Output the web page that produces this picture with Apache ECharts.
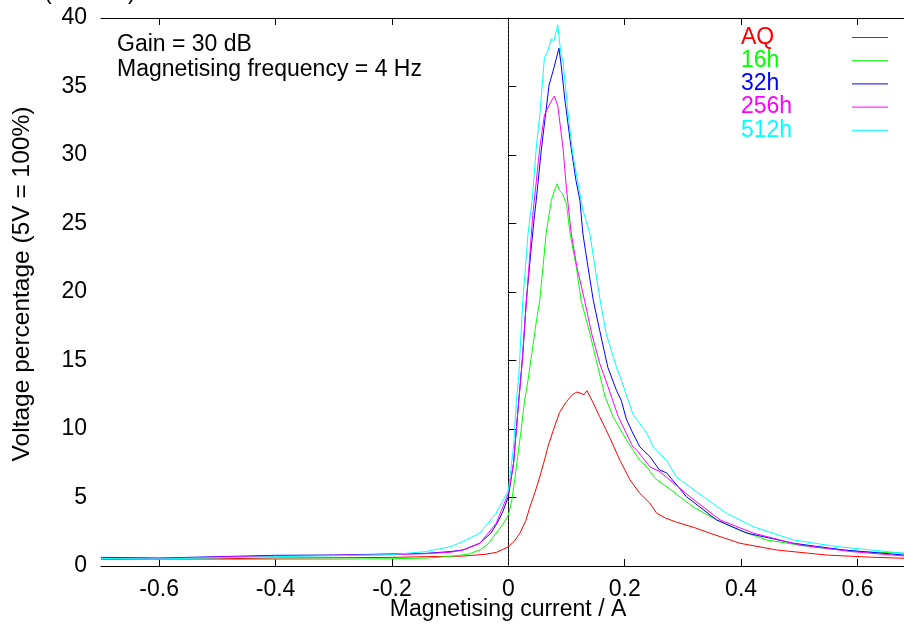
<!DOCTYPE html>
<html>
<head>
<meta charset="utf-8">
<script src="https://cdn.jsdelivr.net/npm/echarts@6/dist/echarts.min.js"></script>
<style>
html,body{margin:0;padding:0;background:#fff;}
#chart{width:904px;height:626px;}
</style>
</head>
<body>
<div id="chart"></div>
<script>
// ---- data ----
var seriesNames = ['AQ', '16h', '32h', '256h', '512h'];
var seriesColors = ['#ff0000', '#00ff00', '#0000ff', '#ff00ff', '#00ffff'];
var xTicks = [-0.6, -0.4, -0.2, 0, 0.2, 0.4, 0.6];
var annotations = ['Gain = 30 dB', 'Magnetising frequency = 4 Hz'];

var dataAQ = [[-0.70,0.48],[-0.60,0.50],[-0.50,0.53],[-0.40,0.58],[-0.30,0.60],[-0.20,0.63],[-0.14,0.68],[-0.08,0.72],[-0.04,0.85],[-0.02,1.0],[0,1.4],[0.01,1.8],[0.02,2.4],[0.03,3.3],[0.037,4.3],[0.046,5.4],[0.054,6.5],[0.062,7.7],[0.068,8.7],[0.078,10.0],[0.088,11.2],[0.10,12.0],[0.11,12.5],[0.118,12.7],[0.125,12.6],[0.13,12.5],[0.135,12.8],[0.146,11.9],[0.157,10.9],[0.174,9.4],[0.192,7.7],[0.209,6.3],[0.226,5.3],[0.243,4.6],[0.255,3.85],[0.27,3.5],[0.289,3.2],[0.32,2.8],[0.346,2.4],[0.398,1.66],[0.461,1.17],[0.547,0.8],[0.62,0.65],[0.68,0.56]];
var data16h = [[-0.70,0.50],[-0.60,0.50],[-0.50,0.48],[-0.40,0.49],[-0.30,0.50],[-0.20,0.53],[-0.14,0.58],[-0.10,0.70],[-0.07,0.85],[-0.049,1.17],[-0.035,1.6],[-0.021,2.4],[-0.01,3.0],[0,3.7],[0.006,4.8],[0.011,6.3],[0.016,8.0],[0.022,9.9],[0.028,12.1],[0.034,13.6],[0.042,16.0],[0.048,17.8],[0.054,19.4],[0.06,22.0],[0.065,24.3],[0.074,26.7],[0.08,27.5],[0.084,27.9],[0.088,27.4],[0.093,27.2],[0.10,26.4],[0.106,24.3],[0.117,21.8],[0.125,19.4],[0.14,17.0],[0.154,14.5],[0.166,12.4],[0.18,10.9],[0.203,9.2],[0.226,7.7],[0.237,7.3],[0.252,6.4],[0.278,5.6],[0.318,4.3],[0.358,3.36],[0.398,2.6],[0.444,1.9],[0.519,1.4],[0.605,1.05],[0.68,0.93]];
var data32h = [[-0.70,0.63],[-0.60,0.58],[-0.50,0.68],[-0.40,0.78],[-0.30,0.80],[-0.20,0.88],[-0.142,0.92],[-0.10,1.05],[-0.078,1.17],[-0.049,1.66],[-0.03,2.4],[-0.021,3.0],[-0.01,3.9],[0,5.06],[0.009,7.5],[0.018,12.1],[0.025,15.5],[0.031,19.4],[0.04,23.5],[0.045,25.6],[0.048,26.7],[0.057,30.5],[0.07,35.1],[0.078,36.3],[0.087,37.8],[0.091,36.5],[0.097,34.1],[0.108,30.5],[0.116,28.2],[0.123,26.7],[0.128,24.3],[0.137,21.8],[0.146,19.4],[0.157,17.2],[0.171,14.5],[0.186,12.8],[0.194,12.1],[0.203,10.7],[0.214,9.7],[0.226,8.7],[0.243,8.0],[0.26,7.0],[0.272,6.8],[0.306,5.06],[0.358,3.36],[0.41,2.4],[0.49,1.66],[0.576,1.17],[0.68,0.8]];
var data256h = [[-0.70,0.58],[-0.60,0.55],[-0.50,0.65],[-0.40,0.73],[-0.30,0.78],[-0.20,0.83],[-0.142,0.90],[-0.10,1.0],[-0.078,1.17],[-0.049,1.66],[-0.021,3.1],[0,5.3],[0.009,7.5],[0.018,12.1],[0.022,13.9],[0.028,17.5],[0.034,21.0],[0.042,25.6],[0.054,30.5],[0.062,32.9],[0.072,33.8],[0.079,34.3],[0.085,33.6],[0.094,30.5],[0.10,27.5],[0.108,24.3],[0.118,21.8],[0.131,19.4],[0.143,17.0],[0.157,14.8],[0.168,13.5],[0.189,10.9],[0.214,8.7],[0.22,8.5],[0.243,7.25],[0.26,6.9],[0.312,5.06],[0.364,3.36],[0.421,2.4],[0.501,1.53],[0.59,1.05],[0.68,0.73]];
var data512h = [[-0.70,0.55],[-0.60,0.52],[-0.50,0.60],[-0.40,0.68],[-0.30,0.75],[-0.20,0.83],[-0.142,1.05],[-0.10,1.4],[-0.08,1.75],[-0.049,2.4],[-0.021,3.85],[0,5.5],[0.009,8.7],[0.014,12.1],[0.018,13.9],[0.025,19.4],[0.034,24.3],[0.041,26.7],[0.048,30.5],[0.054,32.9],[0.062,37.1],[0.068,37.6],[0.074,38.5],[0.078,38.3],[0.085,39.5],[0.09,37.5],[0.094,36.8],[0.097,36.9],[0.103,32.9],[0.111,30.0],[0.128,26.0],[0.14,24.3],[0.149,21.8],[0.157,19.6],[0.168,17.0],[0.186,14.5],[0.194,13.6],[0.206,12.1],[0.214,11.1],[0.238,9.7],[0.249,8.7],[0.272,7.7],[0.289,6.5],[0.335,5.06],[0.375,3.85],[0.421,2.87],[0.49,1.9],[0.565,1.41],[0.68,0.93]];
var allData = [dataAQ, data16h, data32h, data256h, data512h];

// ---- chart ----
var FONT = '"Liberation Sans", Arial, Helvetica, sans-serif';
var FS = 23;
var chart = echarts.init(document.getElementById('chart'), null, {renderer: 'canvas'});

function fmt(v) { var r = Math.round(v * 10) / 10; return String(r === 0 ? 0 : r); }

var series = seriesNames.map(function (name, i) {
  var s = {
    name: name,
    type: 'line',
    data: allData[i],
    showSymbol: false,
    symbol: 'none',
    lineStyle: {color: seriesColors[i], width: 1},
    itemStyle: {color: seriesColors[i]},
    animation: false,
    clip: true,
    z: 3 + i
  };
  if (i === 0) {
    s.markLine = {
      silent: true,
      symbol: 'none',
      label: {show: false},
      z: 1,
      lineStyle: {type: [1, 3], color: '#555', width: 1},
      data: [{xAxis: 0}]
    };
  }
  return s;
});

var graphics = [];
annotations.forEach(function (t, i) {
  graphics.push({type: 'text', left: 117, top: 46 + 25.5 * i - 13, style: {text: t, font: FS + 'px ' + FONT, fill: '#000'}});
});
seriesNames.forEach(function (n, i) {
  var y = 37.5 + 23.2 * i;
  graphics.push({type: 'text', x: 741, y: y, style: {text: n, font: FS + 'px ' + FONT, fill: seriesColors[i], verticalAlign: 'middle', align: 'left'}});
  graphics.push({type: 'line', shape: {x1: 852, y1: y, x2: 888, y2: y}, style: {stroke: seriesColors[i], lineWidth: 1}});
});
graphics.push({type: 'text', x: 508, y: 610, style: {text: 'Magnetising current / A', font: FS + 'px ' + FONT, fill: '#000', align: 'center', verticalAlign: 'middle'}});
graphics.push({type: 'text', x: 22, y: 284, rotation: Math.PI / 2, style: {text: 'Voltage percentage (5V = 100%)', font: '24.5px ' + FONT, fill: '#000', align: 'center', verticalAlign: 'middle'}});
graphics.push({type: 'text', x: 44, y: 4, style: {text: '(', font: FS + 'px ' + FONT, fill: '#000', verticalAlign: 'bottom'}});
graphics.push({type: 'text', x: 128, y: 4, style: {text: ')', font: FS + 'px ' + FONT, fill: '#000', verticalAlign: 'bottom'}});

var axisCommon = {
  type: 'value',
  min: -0.7,
  max: 0.68,
  axisLine: {show: true, lineStyle: {color: '#000', width: 1}},
  splitLine: {show: false}
};

chart.setOption({
  backgroundColor: '#fff',
  animation: false,
  grid: {left: 101, top: 18, right: 0, bottom: 60, containLabel: false},
  xAxis: [
    Object.assign({}, axisCommon, {
      position: 'bottom',
      axisTick: {show: true, inside: true, length: 7, lineStyle: {color: '#000'}, customValues: xTicks},
      axisLabel: {show: true, customValues: xTicks, formatter: fmt, fontSize: FS, fontFamily: FONT, color: '#000', margin: 12}
    }),
    Object.assign({}, axisCommon, {
      position: 'top',
      axisTick: {show: true, inside: true, length: 7, lineStyle: {color: '#000'}, customValues: xTicks},
      axisLabel: {show: false}
    })
  ],
  yAxis: [{
    type: 'value',
    min: 0,
    max: 40,
    interval: 5,
    axisLine: {show: true, lineStyle: {color: '#000', width: 1}},
    axisTick: {show: true, inside: true, length: 8, lineStyle: {color: '#000'}},
    axisLabel: {fontSize: FS, fontFamily: FONT, color: '#000', margin: 14},
    splitLine: {show: false}
  }],
  series: series,
  graphic: graphics
});
</script>
</body>
</html>
